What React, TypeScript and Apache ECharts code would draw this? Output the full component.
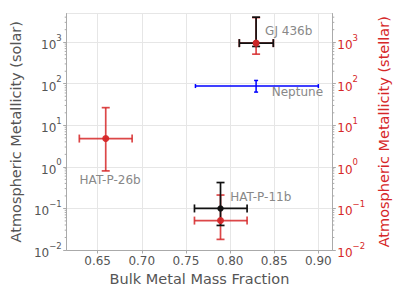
import React, { useEffect, useRef } from "react";
import * as echarts from "echarts";

// Black points: metallicity relative to solar (left axis)
const solarNames = ["GJ 436b", "HAT-P-11b"];
const solarX = [0.8295, 0.7892];
const solarXLo = [0.8105, 0.7597];
const solarXHi = [0.849, 0.8193];
const solarY = [950, 0.1];
const solarYLo = [790, 0.039];
const solarYHi = [4000, 0.42];

// Red points: metallicity relative to stellar (right axis)
const stellarNames = ["GJ 436b", "HAT-P-26b", "HAT-P-11b"];
const stellarX = [0.8295, 0.6592, 0.7892];
const stellarXLo = [0.8105, 0.6293, 0.7597];
const stellarXHi = [0.849, 0.6891, 0.8193];
const stellarY = [950, 4.8, 0.051];
const stellarYLo = [515, 0.8, 0.018];
const stellarYHi = [3900, 26.6, 0.21];

// Neptune (blue)
const neptuneX = [0.8295];
const neptuneXLo = [0.7608];
const neptuneXHi = [0.9];
const neptuneY = [88];
const neptuneYLo = [63];
const neptuneYHi = [120];

// Annotations
const annText = ["GJ 436b", "Neptune", "HAT-P-26b", "HAT-P-11b"];
const annX = [0.8397, 0.9053, 0.6296, 0.8002];
const annY = [1870, 65, 0.495, 0.189];
const annAlign = ["left", "right", "left", "left"];

const X_MIN = 0.615;
const X_MAX = 0.9158;
const Y_MIN = 0.01;
const Y_MAX = 4900;

const FONT = "DejaVu Sans";
const RED = "#d62728";
const GRAY = "#555555";
const AXIS_GRAY = "#aaaaaa";

const minorVals: number[] = [];
for (let e = -2; e <= 3; e++) {
  for (let m = 2; m <= 9; m++) {
    const v = m * Math.pow(10, e);
    if (v <= Y_MAX) minorVals.push(v);
  }
}

function rows(x: number[], xl: number[], xh: number[], y: number[], yl: number[], yh: number[]) {
  return x.map((v, i) => [v, xl[i], xh[i], y[i], yl[i], yh[i]]);
}

function errRender(color: string, cap: number, width: number, marker: number, opacity: number) {
  return (params: any, api: any) => {
    const x = api.value(0), xl = api.value(1), xh = api.value(2);
    const y = api.value(3), yl = api.value(4), yh = api.value(5);
    const c = api.coord([x, y]);
    const pl = api.coord([xl, y]);
    const ph = api.coord([xh, y]);
    const pt = api.coord([x, yh]);
    const pb = api.coord([x, yl]);
    const st = { stroke: color, lineWidth: width, opacity };
    const children: any[] = [
      { type: "line", shape: { x1: pl[0], y1: c[1], x2: ph[0], y2: c[1] }, style: st },
      { type: "line", shape: { x1: pl[0], y1: c[1] - cap, x2: pl[0], y2: c[1] + cap }, style: st },
      { type: "line", shape: { x1: ph[0], y1: c[1] - cap, x2: ph[0], y2: c[1] + cap }, style: st },
      { type: "line", shape: { x1: c[0], y1: pt[1], x2: c[0], y2: pb[1] }, style: st },
      { type: "line", shape: { x1: c[0] - cap, y1: pt[1], x2: c[0] + cap, y2: pt[1] }, style: st },
      { type: "line", shape: { x1: c[0] - cap, y1: pb[1], x2: c[0] + cap, y2: pb[1] }, style: st },
    ];
    if (marker > 0) {
      children.push({ type: "circle", shape: { cx: c[0], cy: c[1], r: marker }, style: { fill: color, opacity } });
    }
    return { type: "group", children };
  };
}

function supFormatter(v: number) {
  const e = Math.round(Math.log10(v));
  const s = e < 0 ? "\u2212" + -e : String(e);
  return "{b|10}{s|" + s + "}";
}

function richFor(color: string) {
  return {
    b: { fontSize: 12, color, fontFamily: FONT, lineHeight: 18, verticalAlign: "bottom" },
    s: { fontSize: 8.5, color, fontFamily: FONT, lineHeight: 18, verticalAlign: "top" },
  };
}

export default function App() {
  const ref = useRef<HTMLDivElement>(null);
  useEffect(() => {
    if (!ref.current) return;
    const chart = echarts.init(ref.current, null, { renderer: "svg" });
    const option: any = {
      animation: false,
      backgroundColor: "#ffffff",
      grid: { left: 63.5, right: 63.5, top: 13.5, bottom: 49, containLabel: false },
      xAxis: {
        type: "value",
        min: X_MIN,
        max: X_MAX,
        name: "Bulk Metal Mass Fraction",
        nameLocation: "middle",
        nameGap: 19,
        nameTextStyle: { fontSize: 14.5, color: GRAY, fontFamily: FONT },
        axisLine: { show: true, lineStyle: { color: AXIS_GRAY, width: 1 } },
        axisTick: { show: true, length: 3.5, lineStyle: { color: AXIS_GRAY } },
        axisLabel: {
          fontSize: 12,
          color: GRAY,
          fontFamily: FONT,
          margin: 5,
          showMinLabel: false,
          showMaxLabel: false,
          formatter: (v: number) => v.toFixed(2),
        },
        splitLine: { show: true, lineStyle: { color: "#e6e6e6", width: 1 } },
      },
      yAxis: [
        {
          type: "log",
          logBase: 10,
          min: Y_MIN,
          max: Y_MAX,
          name: "Atmospheric Metallicity (solar)",
          nameLocation: "middle",
          nameGap: 38,
          nameTextStyle: { fontSize: 14.5, color: GRAY, fontFamily: FONT },
          axisLine: { show: true, lineStyle: { color: AXIS_GRAY, width: 1 } },
          axisTick: { show: true, length: 3.5, lineStyle: { color: AXIS_GRAY } },
          axisLabel: { margin: 5, showMaxLabel: false, formatter: supFormatter, rich: richFor(GRAY) },
          splitLine: { show: true, lineStyle: { color: "#e6e6e6", width: 1 } },
        },
        {
          type: "log",
          logBase: 10,
          min: Y_MIN,
          max: Y_MAX,
          position: "right",
          name: "Atmospheric Metallicity (stellar)",
          nameLocation: "middle",
          nameGap: 37,
          nameTextStyle: { fontSize: 14.5, color: RED, fontFamily: FONT },
          axisLine: { show: true, lineStyle: { color: AXIS_GRAY, width: 1 } },
          axisTick: { show: true, length: 3.5, lineStyle: { color: AXIS_GRAY } },
          axisLabel: { margin: 5, showMaxLabel: false, formatter: supFormatter, rich: richFor(RED) },
          splitLine: { show: false },
        },
      ],
      series: [
        {
          type: "custom",
          name: "minor ticks",
          yAxisIndex: 0,
          silent: true,
          clip: false,
          data: minorVals.map((v) => [X_MIN, v]),
          renderItem: (params: any, api: any) => {
            const l = api.coord([X_MIN, api.value(1)]);
            const r = api.coord([X_MAX, api.value(1)]);
            const st = { stroke: AXIS_GRAY, lineWidth: 1 };
            return {
              type: "group",
              children: [
                { type: "line", shape: { x1: l[0] - 2, y1: l[1], x2: l[0], y2: l[1] }, style: st },
                { type: "line", shape: { x1: r[0], y1: r[1], x2: r[0] + 2, y2: r[1] }, style: st },
              ],
            };
          },
        },
        {
          type: "custom",
          name: "Neptune",
          yAxisIndex: 0,
          clip: false,
          data: rows(neptuneX, neptuneXLo, neptuneXHi, neptuneY, neptuneYLo, neptuneYHi),
          renderItem: errRender("#0000ff", 2, 1.5, 0, 1),
        },
        {
          type: "custom",
          name: "stellar",
          yAxisIndex: 1,
          clip: false,
          data: rows(stellarX, stellarXLo, stellarXHi, stellarY, stellarYLo, stellarYHi),
          renderItem: errRender(RED, 4, 1.7, 0, 0.85),
        },
        {
          type: "custom",
          name: "solar",
          yAxisIndex: 0,
          clip: false,
          data: rows(solarX, solarXLo, solarXHi, solarY, solarYLo, solarYHi),
          renderItem: errRender("#111111", 4, 1.7, 3.2, 1),
        },
        {
          type: "scatter",
          name: "stellar markers",
          yAxisIndex: 1,
          symbol: "circle",
          symbolSize: 7,
          itemStyle: { color: RED, opacity: 0.95 },
          data: stellarX.map((v, i) => [v, stellarY[i]]),
        },
        {
          type: "custom",
          name: "labels",
          yAxisIndex: 0,
          silent: true,
          clip: false,
          data: annText.map((t, i) => [annX[i], annY[i], i]),
          renderItem: (params: any, api: any) => {
            const p = api.coord([api.value(0), api.value(1)]);
            const i = api.value(2);
            return {
              type: "text",
              x: p[0],
              y: p[1],
              style: {
                text: annText[i],
                fill: "#888888",
                fontSize: 12,
                fontFamily: FONT,
                align: annAlign[i],
                verticalAlign: "middle",
              },
            };
          },
        },
      ],
    };
    chart.setOption(option);
    return () => chart.dispose();
  }, []);
  return (
    <div
      ref={ref}
      style={{ position: "fixed", left: 0, top: 0, width: 399, height: 299, background: "#fff" }}
    />
  );
}
